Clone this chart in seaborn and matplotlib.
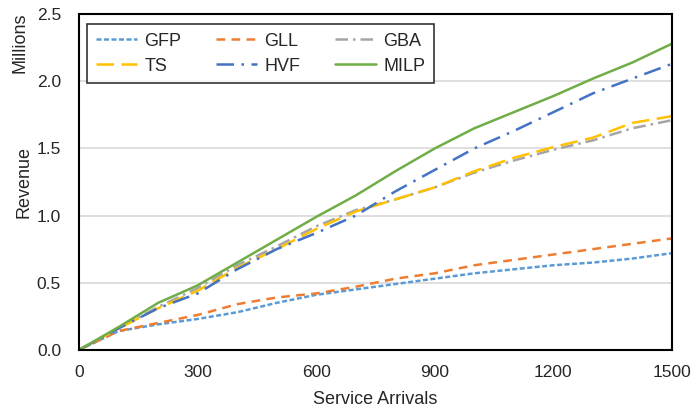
import pandas as pd
import numpy as np
import seaborn as sns
import matplotlib.pyplot as plt

# Data (revenue in millions)
arrivals = [0, 100, 200, 300, 400, 500, 600, 700, 800, 900, 1000, 1100, 1200, 1300, 1400, 1500]
gfp = [0, 0.14, 0.19, 0.23, 0.28, 0.35, 0.41, 0.45, 0.49, 0.53, 0.57, 0.60, 0.63, 0.65, 0.68, 0.72]
gll = [0, 0.14, 0.20, 0.26, 0.34, 0.39, 0.42, 0.47, 0.53, 0.57, 0.63, 0.67, 0.71, 0.75, 0.79, 0.83]
gba = [0, 0.16, 0.32, 0.46, 0.63, 0.77, 0.92, 1.04, 1.12, 1.21, 1.32, 1.41, 1.49, 1.56, 1.65, 1.71]
ts = [0, 0.16, 0.31, 0.44, 0.61, 0.75, 0.90, 1.03, 1.12, 1.21, 1.33, 1.43, 1.51, 1.58, 1.69, 1.74]
hvf = [0, 0.16, 0.31, 0.42, 0.60, 0.75, 0.87, 1.00, 1.18, 1.34, 1.50, 1.63, 1.77, 1.91, 2.02, 2.13]
milp = [0, 0.17, 0.35, 0.48, 0.65, 0.82, 0.99, 1.15, 1.33, 1.50, 1.65, 1.77, 1.89, 2.02, 2.14, 2.28]

methods = ["GFP", "GLL", "GBA", "TS", "HVF", "MILP"]
colors = ["#5B9BD5", "#ED7D31", "#A5A5A5", "#FFC000", "#4472C4", "#70AD47"]
dashes = [(2, 1), (3.5, 2.5), (5, 2, 1, 2), (7, 3), (7, 3, 1, 3), ""]

df = pd.DataFrame({"Service Arrivals": arrivals, "GFP": gfp, "GLL": gll,
                   "GBA": gba, "TS": ts, "HVF": hvf, "MILP": milp})
long_df = df.melt(id_vars="Service Arrivals", var_name="Method", value_name="Revenue")

sns.set_style("white")
plt.rcParams["font.family"] = ["Liberation Sans", "DejaVu Sans"]

fig = plt.figure(figsize=(7, 4.15), dpi=100)
ax = fig.add_axes([0.113, 0.157, 0.847, 0.809])

sns.lineplot(data=long_df, x="Service Arrivals", y="Revenue", hue="Method",
             style="Method", hue_order=methods, style_order=methods,
             palette=colors, dashes=dashes, linewidth=1.8, ax=ax)

ax.set_xlim(0, 1500)
ax.set_ylim(0, 2.5)
ax.set_xticks([0, 300, 600, 900, 1200, 1500])
ax.set_yticks(np.arange(0, 2.51, 0.5))
ax.set_yticklabels([f"{v:.1f}" for v in np.arange(0, 2.51, 0.5)])
ax.grid(axis="y", color="#D9D9D9", linewidth=1.2)
ax.set_axisbelow(True)
for s in ax.spines.values():
    s.set_color("black")
    s.set_linewidth(1.5)
ax.tick_params(axis="x", labelsize=12.5, length=0, pad=11)
ax.tick_params(axis="y", labelsize=12.5, length=0, pad=13)
ax.set_xlabel("Service Arrivals", fontsize=13, labelpad=8)
ax.set_ylabel("Revenue", fontsize=13, labelpad=3)
fig.text(0.028, 0.898, "Millions", rotation=90, fontsize=13, ha="center", va="center")

# row-wise legend order: matplotlib fills columns first
handles, labels = ax.get_legend_handles_labels()
order = [0, 3, 1, 4, 2, 5]
leg = ax.legend([handles[i] for i in order], [labels[i] for i in order],
                loc="upper left", ncol=3, fontsize=13, frameon=True, fancybox=False,
                edgecolor="black", handlelength=2.3, handletextpad=0.4,
                columnspacing=1.9, labelspacing=0.45,
                bbox_to_anchor=(0.008, 0.98), borderaxespad=0.2, borderpad=0.45)
leg.get_frame().set_linewidth(1.2)

fig.savefig("out.png", dpi=100)
